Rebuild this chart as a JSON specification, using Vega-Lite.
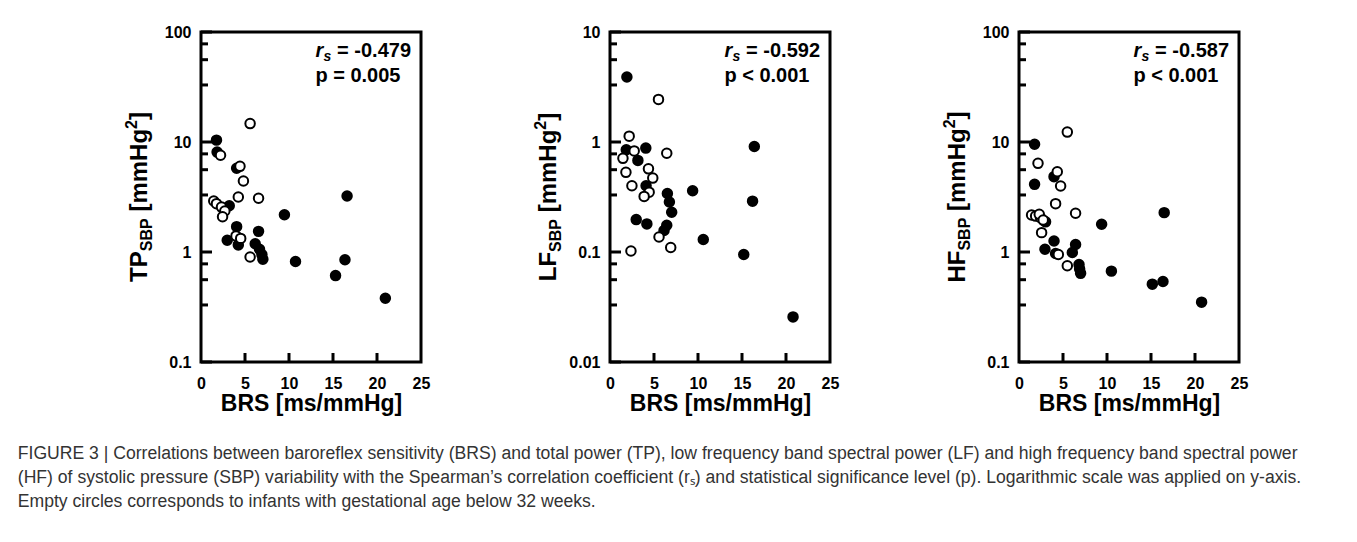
{
  "$schema": "https://vega.github.io/schema/vega-lite/v6.json",
  "background": "white",
  "padding": {"left": 17, "top": 22, "right": 0, "bottom": 0},
  "bounds": "flush",
  "spacing": 189,
  "title": {
    "text": [
      "FIGURE 3 | Correlations between baroreflex sensitivity (BRS) and total power (TP), low frequency band spectral power (LF) and high frequency band spectral power",
      "(HF) of systolic pressure (SBP) variability with the Spearman’s correlation coefficient (rₛ) and statistical significance level (p). Logarithmic scale was applied on y-axis.",
      "Empty circles corresponds to infants with gestational age below 32 weeks."
    ],
    "orient": "bottom",
    "anchor": "start",
    "frame": "bounds",
    "dx": -104.7,
    "offset": 28,
    "font": "Liberation Sans",
    "fontSize": 17.6,
    "fontWeight": "normal",
    "color": "#333333",
    "lineHeight": 24,
    "baseline": "top"
  },
  "datasets": {
    "pts": [
      {"p": "TP", "brs": 1.76, "v": 10.4, "g": "f"},
      {"p": "TP", "brs": 1.83, "v": 8.1, "g": "f"},
      {"p": "TP", "brs": 4.05, "v": 5.77, "g": "f"},
      {"p": "TP", "brs": 16.6, "v": 3.23, "g": "f"},
      {"p": "TP", "brs": 9.48, "v": 2.18, "g": "f"},
      {"p": "TP", "brs": 3.21, "v": 2.63, "g": "f"},
      {"p": "TP", "brs": 4.05, "v": 1.7, "g": "f"},
      {"p": "TP", "brs": 6.54, "v": 1.54, "g": "f"},
      {"p": "TP", "brs": 2.98, "v": 1.28, "g": "f"},
      {"p": "TP", "brs": 4.24, "v": 1.16, "g": "f"},
      {"p": "TP", "brs": 6.16, "v": 1.19, "g": "f"},
      {"p": "TP", "brs": 6.65, "v": 1.06, "g": "f"},
      {"p": "TP", "brs": 6.92, "v": 0.95, "g": "f"},
      {"p": "TP", "brs": 7.03, "v": 0.86, "g": "f"},
      {"p": "TP", "brs": 10.74, "v": 0.82, "g": "f"},
      {"p": "TP", "brs": 16.36, "v": 0.85, "g": "f"},
      {"p": "TP", "brs": 15.29, "v": 0.61, "g": "f"},
      {"p": "TP", "brs": 20.95, "v": 0.38, "g": "f"},
      {"p": "TP", "brs": 5.58, "v": 14.7, "g": "o"},
      {"p": "TP", "brs": 2.22, "v": 7.57, "g": "o"},
      {"p": "TP", "brs": 4.43, "v": 6.01, "g": "o"},
      {"p": "TP", "brs": 4.82, "v": 4.42, "g": "o"},
      {"p": "TP", "brs": 4.24, "v": 3.16, "g": "o"},
      {"p": "TP", "brs": 6.54, "v": 3.08, "g": "o"},
      {"p": "TP", "brs": 1.45, "v": 2.91, "g": "o"},
      {"p": "TP", "brs": 1.76, "v": 2.75, "g": "o"},
      {"p": "TP", "brs": 2.33, "v": 2.56, "g": "o"},
      {"p": "TP", "brs": 2.71, "v": 2.36, "g": "o"},
      {"p": "TP", "brs": 2.45, "v": 2.09, "g": "o"},
      {"p": "TP", "brs": 3.98, "v": 1.4, "g": "o"},
      {"p": "TP", "brs": 4.51, "v": 1.33, "g": "o"},
      {"p": "TP", "brs": 5.58, "v": 0.9, "g": "o"},
      {"p": "LF", "brs": 1.92, "v": 3.9, "g": "f"},
      {"p": "LF", "brs": 4.07, "v": 0.88, "g": "f"},
      {"p": "LF", "brs": 1.85, "v": 0.85, "g": "f"},
      {"p": "LF", "brs": 3.17, "v": 0.68, "g": "f"},
      {"p": "LF", "brs": 16.4, "v": 0.91, "g": "f"},
      {"p": "LF", "brs": 4.1, "v": 0.4, "g": "f"},
      {"p": "LF", "brs": 9.39, "v": 0.36, "g": "f"},
      {"p": "LF", "brs": 6.52, "v": 0.34, "g": "f"},
      {"p": "LF", "brs": 6.75, "v": 0.285, "g": "f"},
      {"p": "LF", "brs": 7.01, "v": 0.23, "g": "f"},
      {"p": "LF", "brs": 16.2, "v": 0.29, "g": "f"},
      {"p": "LF", "brs": 2.98, "v": 0.197, "g": "f"},
      {"p": "LF", "brs": 4.19, "v": 0.18, "g": "f"},
      {"p": "LF", "brs": 6.45, "v": 0.175, "g": "f"},
      {"p": "LF", "brs": 6.14, "v": 0.157, "g": "f"},
      {"p": "LF", "brs": 10.6, "v": 0.13, "g": "f"},
      {"p": "LF", "brs": 15.2, "v": 0.095, "g": "f"},
      {"p": "LF", "brs": 20.8, "v": 0.0257, "g": "f"},
      {"p": "LF", "brs": 5.51, "v": 2.44, "g": "o"},
      {"p": "LF", "brs": 2.18, "v": 1.13, "g": "o"},
      {"p": "LF", "brs": 2.75, "v": 0.83, "g": "o"},
      {"p": "LF", "brs": 1.47, "v": 0.71, "g": "o"},
      {"p": "LF", "brs": 6.45, "v": 0.79, "g": "o"},
      {"p": "LF", "brs": 1.81, "v": 0.53, "g": "o"},
      {"p": "LF", "brs": 4.37, "v": 0.57, "g": "o"},
      {"p": "LF", "brs": 4.86, "v": 0.47, "g": "o"},
      {"p": "LF", "brs": 2.49, "v": 0.4, "g": "o"},
      {"p": "LF", "brs": 4.45, "v": 0.35, "g": "o"},
      {"p": "LF", "brs": 3.88, "v": 0.32, "g": "o"},
      {"p": "LF", "brs": 5.57, "v": 0.137, "g": "o"},
      {"p": "LF", "brs": 6.9, "v": 0.11, "g": "o"},
      {"p": "LF", "brs": 2.38, "v": 0.102, "g": "o"},
      {"p": "HF", "brs": 1.77, "v": 9.53, "g": "f"},
      {"p": "HF", "brs": 3.98, "v": 4.84, "g": "f"},
      {"p": "HF", "brs": 1.77, "v": 4.12, "g": "f"},
      {"p": "HF", "brs": 16.5, "v": 2.28, "g": "f"},
      {"p": "HF", "brs": 9.39, "v": 1.79, "g": "f"},
      {"p": "HF", "brs": 3.02, "v": 1.88, "g": "f"},
      {"p": "HF", "brs": 3.98, "v": 1.26, "g": "f"},
      {"p": "HF", "brs": 2.95, "v": 1.06, "g": "f"},
      {"p": "HF", "brs": 4.16, "v": 0.97, "g": "f"},
      {"p": "HF", "brs": 6.43, "v": 1.17, "g": "f"},
      {"p": "HF", "brs": 6.06, "v": 0.99, "g": "f"},
      {"p": "HF", "brs": 6.82, "v": 0.77, "g": "f"},
      {"p": "HF", "brs": 6.89, "v": 0.7, "g": "f"},
      {"p": "HF", "brs": 7.0, "v": 0.64, "g": "f"},
      {"p": "HF", "brs": 10.5, "v": 0.67, "g": "f"},
      {"p": "HF", "brs": 15.15, "v": 0.51, "g": "f"},
      {"p": "HF", "brs": 16.36, "v": 0.54, "g": "f"},
      {"p": "HF", "brs": 20.75, "v": 0.35, "g": "f"},
      {"p": "HF", "brs": 5.49, "v": 12.3, "g": "o"},
      {"p": "HF", "brs": 2.16, "v": 6.4, "g": "o"},
      {"p": "HF", "brs": 4.35, "v": 5.37, "g": "o"},
      {"p": "HF", "brs": 4.73, "v": 3.98, "g": "o"},
      {"p": "HF", "brs": 4.16, "v": 2.75, "g": "o"},
      {"p": "HF", "brs": 6.43, "v": 2.25, "g": "o"},
      {"p": "HF", "brs": 1.43, "v": 2.17, "g": "o"},
      {"p": "HF", "brs": 1.89, "v": 2.12, "g": "o"},
      {"p": "HF", "brs": 2.45, "v": 2.05, "g": "o"},
      {"p": "HF", "brs": 2.3, "v": 2.2, "g": "o"},
      {"p": "HF", "brs": 2.75, "v": 1.95, "g": "o"},
      {"p": "HF", "brs": 2.57, "v": 1.5, "g": "o"},
      {"p": "HF", "brs": 4.47, "v": 0.95, "g": "o"},
      {"p": "HF", "brs": 5.49, "v": 0.75, "g": "o"}
    ]
  },
  "hconcat": [
    {
      "width": 220,
      "height": 330,
      "resolve": {"axis": {"y": "independent"}},
      "layer": [
        {
          "data": {"name": "pts"},
          "transform": [{"filter": "datum.p === 'TP'"}],
          "mark": {"type": "point", "shape": "circle", "filled": true, "stroke": "black", "strokeWidth": 2, "size": 90, "opacity": 1},
          "encoding": {
            "x": {"field": "brs", "type": "quantitative", "scale": {"domain": [0, 25], "nice": false, "zero": false},
              "axis": {"values": [0, 5, 10, 15, 20, 25], "ticks": false, "tickSize": 0, "labelPadding": 13, "labelFlush": false, "labelOverlap": false, "title": "BRS [ms/mmHg]", "titlePadding": 1}},
            "y": {"field": "v", "type": "quantitative", "scale": {"type": "log", "domain": [0.1, 100], "nice": false},
              "axis": {"orient": "left", "values": [0.1, 1, 10, 100], "ticks": false, "tickSize": 0, "labelPadding": 10, "labelOverlap": false, "labelBound": false,
                "labelExpr": "datum.value == 100 ? '100' : datum.value == 10 ? '10' : datum.value == 1 ? '1' : '0.1'", "title": null}},
            "fill": {"field": "g", "type": "nominal", "scale": {"domain": ["f", "o"], "range": ["black", "white"]}, "legend": null}
          }
        },
        {"data": {"values": [{"t": 0.1}, {"t": 1}, {"t": 10}, {"t": 100}]}, "mark": {"type": "tick", "orient": "horizontal", "size": 11, "thickness": 3, "color": "black", "opacity": 1},
          "encoding": {"x": {"datum": 0.625}, "y": {"field": "t", "type": "quantitative", "axis": null}}},
        {"data": {"values": [{"t": 0.33}, {"t": 0.56}, {"t": 0.78}, {"t": 3.3}, {"t": 5.6}, {"t": 7.8}, {"t": 33}, {"t": 56}, {"t": 78}]}, "mark": {"type": "tick", "orient": "horizontal", "size": 7, "thickness": 3, "color": "black", "opacity": 1},
          "encoding": {"x": {"datum": 0.398}, "y": {"field": "t", "type": "quantitative", "axis": null}}},
        {"data": {"values": [{"t": 5}, {"t": 10}, {"t": 15}, {"t": 20}]}, "mark": {"type": "tick", "orient": "vertical", "size": 9, "thickness": 3, "color": "black", "opacity": 1},
          "encoding": {"x": {"field": "t", "type": "quantitative"}, "y": {"datum": 0.1099, "axis": null}}},
        {"data": {"values": [{}]}, "mark": {"type": "text", "text": "p = 0.005", "align": "left", "baseline": "alphabetic", "fontSize": 20, "fontWeight": "bold"}, "encoding": {"x": {"datum": 13}, "y": {"datum": 35.1, "axis": null}}},
        {"data": {"values": [{}]}, "mark": {"type": "text", "text": "TP", "angle": 270, "align": "left", "baseline": "alphabetic", "fontSize": 24, "fontWeight": "bold", "dx": -84.9}, "encoding": {"x": {"datum": -6.14}, "y": {"datum": 3.1623, "axis": null}}},
        {"data": {"values": [{}]}, "mark": {"type": "text", "text": "SBP", "angle": 270, "align": "left", "baseline": "alphabetic", "fontSize": 16, "fontWeight": "bold", "dx": -54.2, "dy": 5}, "encoding": {"x": {"datum": -6.14}, "y": {"datum": 3.1623, "axis": null}}},
        {"data": {"values": [{}]}, "mark": {"type": "text", "text": "[mmHg", "angle": 270, "align": "left", "baseline": "alphabetic", "fontSize": 24, "fontWeight": "bold", "dx": -14.6}, "encoding": {"x": {"datum": -6.14}, "y": {"datum": 3.1623, "axis": null}}},
        {"data": {"values": [{}]}, "mark": {"type": "text", "text": "2", "angle": 270, "align": "left", "baseline": "alphabetic", "fontSize": 16, "fontWeight": "bold", "dx": 68.0, "dy": -10}, "encoding": {"x": {"datum": -6.14}, "y": {"datum": 3.1623, "axis": null}}},
        {"data": {"values": [{}]}, "mark": {"type": "text", "text": "]", "angle": 270, "align": "left", "baseline": "alphabetic", "fontSize": 24, "fontWeight": "bold", "dx": 76.9}, "encoding": {"x": {"datum": -6.14}, "y": {"datum": 3.1623, "axis": null}}},
        {"data": {"values": [{}]}, "mark": {"type": "text", "text": "r", "align": "left", "baseline": "alphabetic", "fontSize": 20, "fontWeight": "bold", "fontStyle": "italic"}, "encoding": {"x": {"datum": 13}, "y": {"datum": 59.3, "axis": null}}},
        {"data": {"values": [{}]}, "mark": {"type": "text", "text": "s", "align": "left", "baseline": "alphabetic", "fontSize": 14, "fontWeight": "bold", "fontStyle": "italic", "dx": 8, "dy": 4}, "encoding": {"x": {"datum": 13}, "y": {"datum": 59.3, "axis": null}}},
        {"data": {"values": [{}]}, "mark": {"type": "text", "text": "= -0.479", "align": "left", "baseline": "alphabetic", "fontSize": 20, "fontWeight": "bold", "dx": 21.7}, "encoding": {"x": {"datum": 13}, "y": {"datum": 59.3, "axis": null}}}
      ]
    },
    {
      "width": 220,
      "height": 330,
      "resolve": {"axis": {"y": "independent"}},
      "layer": [
        {
          "data": {"name": "pts"},
          "transform": [{"filter": "datum.p === 'LF'"}],
          "mark": {"type": "point", "shape": "circle", "filled": true, "stroke": "black", "strokeWidth": 2, "size": 90, "opacity": 1},
          "encoding": {
            "x": {"field": "brs", "type": "quantitative", "scale": {"domain": [0, 25], "nice": false, "zero": false},
              "axis": {"values": [0, 5, 10, 15, 20, 25], "ticks": false, "tickSize": 0, "labelPadding": 13, "labelFlush": false, "labelOverlap": false, "title": "BRS [ms/mmHg]", "titlePadding": 1}},
            "y": {"field": "v", "type": "quantitative", "scale": {"type": "log", "domain": [0.01, 10], "nice": false},
              "axis": {"orient": "left", "values": [0.01, 0.1, 1, 10], "ticks": false, "tickSize": 0, "labelPadding": 10, "labelOverlap": false, "labelBound": false,
                "labelExpr": "datum.value == 10 ? '10' : datum.value == 1 ? '1' : datum.value == 0.1 ? '0.1' : '0.01'", "title": null}},
            "fill": {"field": "g", "type": "nominal", "scale": {"domain": ["f", "o"], "range": ["black", "white"]}, "legend": null}
          }
        },
        {"data": {"values": [{"t": 0.01}, {"t": 0.1}, {"t": 1}, {"t": 10}]}, "mark": {"type": "tick", "orient": "horizontal", "size": 11, "thickness": 3, "color": "black", "opacity": 1},
          "encoding": {"x": {"datum": 0.625}, "y": {"field": "t", "type": "quantitative", "axis": null}}},
        {"data": {"values": [{"t": 0.033}, {"t": 0.056}, {"t": 0.078}, {"t": 0.33}, {"t": 0.56}, {"t": 0.78}, {"t": 3.3}, {"t": 5.6}, {"t": 7.8}]}, "mark": {"type": "tick", "orient": "horizontal", "size": 7, "thickness": 3, "color": "black", "opacity": 1},
          "encoding": {"x": {"datum": 0.398}, "y": {"field": "t", "type": "quantitative", "axis": null}}},
        {"data": {"values": [{"t": 5}, {"t": 10}, {"t": 15}, {"t": 20}]}, "mark": {"type": "tick", "orient": "vertical", "size": 9, "thickness": 3, "color": "black", "opacity": 1},
          "encoding": {"x": {"field": "t", "type": "quantitative"}, "y": {"datum": 0.01099, "axis": null}}},
        {"data": {"values": [{}]}, "mark": {"type": "text", "text": "p < 0.001", "align": "left", "baseline": "alphabetic", "fontSize": 20, "fontWeight": "bold"}, "encoding": {"x": {"datum": 13}, "y": {"datum": 3.51, "axis": null}}},
        {"data": {"values": [{}]}, "mark": {"type": "text", "text": "LF", "angle": 270, "align": "left", "baseline": "alphabetic", "fontSize": 24, "fontWeight": "bold", "dx": -84.2}, "encoding": {"x": {"datum": -6.14}, "y": {"datum": 0.31623, "axis": null}}},
        {"data": {"values": [{}]}, "mark": {"type": "text", "text": "SBP", "angle": 270, "align": "left", "baseline": "alphabetic", "fontSize": 16, "fontWeight": "bold", "dx": -54.9, "dy": 5}, "encoding": {"x": {"datum": -6.14}, "y": {"datum": 0.31623, "axis": null}}},
        {"data": {"values": [{}]}, "mark": {"type": "text", "text": "[mmHg", "angle": 270, "align": "left", "baseline": "alphabetic", "fontSize": 24, "fontWeight": "bold", "dx": -15.3}, "encoding": {"x": {"datum": -6.14}, "y": {"datum": 0.31623, "axis": null}}},
        {"data": {"values": [{}]}, "mark": {"type": "text", "text": "2", "angle": 270, "align": "left", "baseline": "alphabetic", "fontSize": 16, "fontWeight": "bold", "dx": 67.3, "dy": -10}, "encoding": {"x": {"datum": -6.14}, "y": {"datum": 0.31623, "axis": null}}},
        {"data": {"values": [{}]}, "mark": {"type": "text", "text": "]", "angle": 270, "align": "left", "baseline": "alphabetic", "fontSize": 24, "fontWeight": "bold", "dx": 76.2}, "encoding": {"x": {"datum": -6.14}, "y": {"datum": 0.31623, "axis": null}}},
        {"data": {"values": [{}]}, "mark": {"type": "text", "text": "r", "align": "left", "baseline": "alphabetic", "fontSize": 20, "fontWeight": "bold", "fontStyle": "italic"}, "encoding": {"x": {"datum": 13}, "y": {"datum": 5.93, "axis": null}}},
        {"data": {"values": [{}]}, "mark": {"type": "text", "text": "s", "align": "left", "baseline": "alphabetic", "fontSize": 14, "fontWeight": "bold", "fontStyle": "italic", "dx": 8, "dy": 4}, "encoding": {"x": {"datum": 13}, "y": {"datum": 5.93, "axis": null}}},
        {"data": {"values": [{}]}, "mark": {"type": "text", "text": "= -0.592", "align": "left", "baseline": "alphabetic", "fontSize": 20, "fontWeight": "bold", "dx": 21.7}, "encoding": {"x": {"datum": 13}, "y": {"datum": 5.93, "axis": null}}}
      ]
    },
    {
      "width": 220,
      "height": 330,
      "resolve": {"axis": {"y": "independent"}},
      "layer": [
        {
          "data": {"name": "pts"},
          "transform": [{"filter": "datum.p === 'HF'"}],
          "mark": {"type": "point", "shape": "circle", "filled": true, "stroke": "black", "strokeWidth": 2, "size": 90, "opacity": 1},
          "encoding": {
            "x": {"field": "brs", "type": "quantitative", "scale": {"domain": [0, 25], "nice": false, "zero": false},
              "axis": {"values": [0, 5, 10, 15, 20, 25], "ticks": false, "tickSize": 0, "labelPadding": 13, "labelFlush": false, "labelOverlap": false, "title": "BRS [ms/mmHg]", "titlePadding": 1}},
            "y": {"field": "v", "type": "quantitative", "scale": {"type": "log", "domain": [0.1, 100], "nice": false},
              "axis": {"orient": "left", "values": [0.1, 1, 10, 100], "ticks": false, "tickSize": 0, "labelPadding": 10, "labelOverlap": false, "labelBound": false,
                "labelExpr": "datum.value == 100 ? '100' : datum.value == 10 ? '10' : datum.value == 1 ? '1' : '0.1'", "title": null}},
            "fill": {"field": "g", "type": "nominal", "scale": {"domain": ["f", "o"], "range": ["black", "white"]}, "legend": null}
          }
        },
        {"data": {"values": [{"t": 0.1}, {"t": 1}, {"t": 10}, {"t": 100}]}, "mark": {"type": "tick", "orient": "horizontal", "size": 11, "thickness": 3, "color": "black", "opacity": 1},
          "encoding": {"x": {"datum": 0.625}, "y": {"field": "t", "type": "quantitative", "axis": null}}},
        {"data": {"values": [{"t": 0.33}, {"t": 0.56}, {"t": 0.78}, {"t": 3.3}, {"t": 5.6}, {"t": 7.8}, {"t": 33}, {"t": 56}, {"t": 78}]}, "mark": {"type": "tick", "orient": "horizontal", "size": 7, "thickness": 3, "color": "black", "opacity": 1},
          "encoding": {"x": {"datum": 0.398}, "y": {"field": "t", "type": "quantitative", "axis": null}}},
        {"data": {"values": [{"t": 5}, {"t": 10}, {"t": 15}, {"t": 20}]}, "mark": {"type": "tick", "orient": "vertical", "size": 9, "thickness": 3, "color": "black", "opacity": 1},
          "encoding": {"x": {"field": "t", "type": "quantitative"}, "y": {"datum": 0.1099, "axis": null}}},
        {"data": {"values": [{}]}, "mark": {"type": "text", "text": "p < 0.001", "align": "left", "baseline": "alphabetic", "fontSize": 20, "fontWeight": "bold"}, "encoding": {"x": {"datum": 13}, "y": {"datum": 35.1, "axis": null}}},
        {"data": {"values": [{}]}, "mark": {"type": "text", "text": "HF", "angle": 270, "align": "left", "baseline": "alphabetic", "fontSize": 24, "fontWeight": "bold", "dx": -85.55}, "encoding": {"x": {"datum": -6.14}, "y": {"datum": 3.1623, "axis": null}}},
        {"data": {"values": [{}]}, "mark": {"type": "text", "text": "SBP", "angle": 270, "align": "left", "baseline": "alphabetic", "fontSize": 16, "fontWeight": "bold", "dx": -53.55, "dy": 5}, "encoding": {"x": {"datum": -6.14}, "y": {"datum": 3.1623, "axis": null}}},
        {"data": {"values": [{}]}, "mark": {"type": "text", "text": "[mmHg", "angle": 270, "align": "left", "baseline": "alphabetic", "fontSize": 24, "fontWeight": "bold", "dx": -14.0}, "encoding": {"x": {"datum": -6.14}, "y": {"datum": 3.1623, "axis": null}}},
        {"data": {"values": [{}]}, "mark": {"type": "text", "text": "2", "angle": 270, "align": "left", "baseline": "alphabetic", "fontSize": 16, "fontWeight": "bold", "dx": 68.65, "dy": -10}, "encoding": {"x": {"datum": -6.14}, "y": {"datum": 3.1623, "axis": null}}},
        {"data": {"values": [{}]}, "mark": {"type": "text", "text": "]", "angle": 270, "align": "left", "baseline": "alphabetic", "fontSize": 24, "fontWeight": "bold", "dx": 77.55}, "encoding": {"x": {"datum": -6.14}, "y": {"datum": 3.1623, "axis": null}}},
        {"data": {"values": [{}]}, "mark": {"type": "text", "text": "r", "align": "left", "baseline": "alphabetic", "fontSize": 20, "fontWeight": "bold", "fontStyle": "italic"}, "encoding": {"x": {"datum": 13}, "y": {"datum": 59.3, "axis": null}}},
        {"data": {"values": [{}]}, "mark": {"type": "text", "text": "s", "align": "left", "baseline": "alphabetic", "fontSize": 14, "fontWeight": "bold", "fontStyle": "italic", "dx": 8, "dy": 4}, "encoding": {"x": {"datum": 13}, "y": {"datum": 59.3, "axis": null}}},
        {"data": {"values": [{}]}, "mark": {"type": "text", "text": "= -0.587", "align": "left", "baseline": "alphabetic", "fontSize": 20, "fontWeight": "bold", "dx": 21.7}, "encoding": {"x": {"datum": 13}, "y": {"datum": 59.3, "axis": null}}}
      ]
    }
  ],
  "config": {
    "font": "Liberation Sans",
    "view": {"stroke": "black", "strokeWidth": 3},
    "text": {"font": "Liberation Sans", "color": "black"},
    "axis": {
      "domain": false,
      "grid": false,
      "labelFont": "Liberation Sans",
      "labelFontWeight": "bold",
      "labelFontSize": 16,
      "labelColor": "black",
      "titleFont": "Liberation Sans",
      "titleFontWeight": "bold",
      "titleFontSize": 23,
      "titleColor": "black"
    }
  }
}
